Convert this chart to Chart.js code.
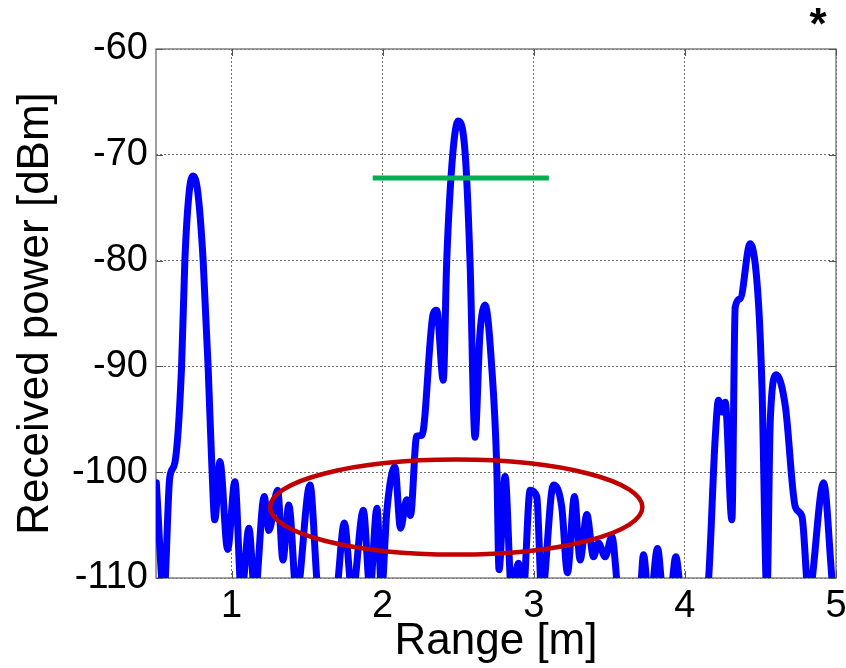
<!DOCTYPE html>
<html>
<head>
<meta charset="utf-8">
<script src="https://cdn.jsdelivr.net/npm/chart.js@4/dist/chart.umd.min.js"></script>
<style>
  html, body { margin: 0; padding: 0; background: #fff; }
  #wrap { width: 846px; height: 668px; }
</style>
</head>
<body>
<div id="wrap"><canvas id="myChart" width="846" height="668"></canvas></div>
<script>
// Range profile: received power vs. range
var rangeM = [
    0.502, 0.552, 0.591, 0.625, 0.669, 0.691, 0.719, 0.746, 0.777, 0.812,
    0.845, 0.868, 0.889, 0.923, 0.974, 1.022, 1.066, 1.115, 1.154, 1.216,
    1.247, 1.305, 1.340, 1.379, 1.430, 1.519, 1.574, 1.631, 1.693, 1.746,
    1.799, 1.872, 1.916, 1.962, 1.993, 2.028, 2.081, 2.118, 2.159, 2.184,
    2.225, 2.260, 2.335, 2.358, 2.401, 2.424, 2.464, 2.501, 2.546, 2.578,
    2.611, 2.644, 2.678, 2.722, 2.755, 2.770, 2.810, 2.854, 2.898, 2.929,
    2.976, 3.020, 3.053, 3.130, 3.185, 3.223, 3.269, 3.307, 3.351, 3.395,
    3.428, 3.472, 3.517, 3.560, 3.638, 3.704, 3.726, 3.766, 3.819, 3.853,
    3.880, 3.907, 3.940, 3.975, 4.068, 4.148, 4.201, 4.222, 4.245, 4.267,
    4.311, 4.333, 4.366, 4.432, 4.487, 4.510, 4.543, 4.565, 4.605, 4.665,
    4.731, 4.775, 4.819, 4.918, 4.985, 5.000
];
var powerDbm = [
    -101.0, -111.6, -100.5, -99.1, -90.1, -80.0, -73.6, -72.0, -73.6, -80.0,
    -90.1, -98.8, -104.5, -99.0, -107.3, -100.9, -111.6, -105.3, -111.6, -102.3,
    -105.5, -101.7, -108.3, -103.1, -111.6, -101.2, -111.6, -113.0, -111.6, -104.8,
    -111.6, -103.6, -111.1, -103.4, -111.1, -103.6, -99.5, -105.3, -102.6, -104.1,
    -96.6, -96.5, -85.0, -84.7, -91.3, -80.0, -69.9, -66.8, -69.9, -80.0,
    -96.7, -86.9, -84.2, -90.1, -99.5, -109.2, -100.4, -111.6, -108.6, -111.6,
    -101.7, -102.3, -111.6, -101.2, -103.3, -109.5, -102.3, -108.3, -104.0, -108.0,
    -106.7, -108.0, -106.1, -111.6, -114.0, -111.6, -107.8, -113.0, -107.2, -111.6,
    -113.0, -111.6, -108.0, -111.6, -114.0, -111.6, -96.7, -93.2, -94.3, -93.4,
    -104.5, -84.4, -83.6, -78.4, -84.0, -91.9, -111.6, -95.1, -90.8, -93.8,
    -103.3, -104.2, -111.6, -101.0, -111.6, -112.0
];

var xTicks = [1, 2, 3, 4, 5];
var yTicks = [-110, -100, -90, -80, -70, -60];

// detection threshold segment
var thresholdRange = [1.934, 3.10];
var thresholdDbm = -72.2;

// ellipse marking the sidelobe floor (centre and half-axes in data units)
var ellipseCenter = [2.487, -103.3];
var ellipseRadius = [1.232, 4.49];

var FONT = 'Arial, "Liberation Sans", sans-serif';

var profilePoints = rangeM.map(function (r, i) {
    return { x: r, y: powerDbm[i] };
});
var thresholdPoints = thresholdRange.map(function (r) {
    return { x: r, y: thresholdDbm };
});

// box around the axes, inward tick marks, ellipse and the star
var extras = {
    id: 'extras',
    beforeDatasetsDraw: function (chart) {
        var a = chart.chartArea, ctx = chart.ctx;
        var xs = chart.scales.x, ys = chart.scales.y;
        ctx.save();
        ctx.strokeStyle = '#808080';
        ctx.lineWidth = 1.5;
        ctx.strokeRect(a.left, a.top, a.right - a.left, a.bottom - a.top);
        ctx.strokeStyle = '#555';
        ctx.lineWidth = 1;
        ctx.beginPath();
        xTicks.forEach(function (v) {
            var px = Math.round(xs.getPixelForValue(v)) + 0.5;
            ctx.moveTo(px, a.bottom); ctx.lineTo(px, a.bottom - 7);
            ctx.moveTo(px, a.top); ctx.lineTo(px, a.top + 7);
        });
        yTicks.forEach(function (v) {
            var py = Math.round(ys.getPixelForValue(v)) + 0.5;
            ctx.moveTo(a.left, py); ctx.lineTo(a.left + 7, py);
            ctx.moveTo(a.right, py); ctx.lineTo(a.right - 7, py);
        });
        ctx.stroke();
        ctx.restore();
    },
    afterDatasetsDraw: function (chart) {
        var ctx = chart.ctx;
        var xs = chart.scales.x, ys = chart.scales.y;
        var cx = xs.getPixelForValue(ellipseCenter[0]);
        var cy = ys.getPixelForValue(ellipseCenter[1]);
        var rx = xs.getPixelForValue(ellipseCenter[0] + ellipseRadius[0]) - cx;
        var ry = cy - ys.getPixelForValue(ellipseCenter[1] + ellipseRadius[1]);
        ctx.save();
        ctx.strokeStyle = '#c00000';
        ctx.lineWidth = 4.5;
        ctx.beginPath();
        ctx.ellipse(cx, cy, rx, ry, 0, 0, Math.PI * 2);
        ctx.stroke();
        ctx.restore();
    },
    afterDraw: function (chart) {
        var ctx = chart.ctx;
        ctx.save();
        ctx.fillStyle = '#000';
        ctx.font = 'bold 44px ' + FONT;
        ctx.textAlign = 'center';
        ctx.textBaseline = 'alphabetic';
        ctx.fillText('*', 818, 39);
        ctx.restore();
    }
};

var ctx = document.getElementById('myChart').getContext('2d');
var myChart = new Chart(ctx, {
    type: 'line',
    data: {
        datasets: [{
            label: 'Threshold',
            data: thresholdPoints,
            borderColor: '#00b050',
            borderWidth: 5,
            borderCapStyle: 'butt',
            pointRadius: 0,
            order: 0
        }, {
            label: 'Received power',
            data: profilePoints,
            borderColor: '#0000ff',
            borderWidth: 7,
            borderJoinStyle: 'round',
            borderCapStyle: 'round',
            cubicInterpolationMode: 'monotone',
            pointRadius: 0,
            clip: 0,
            order: 2
        }]
    },
    options: {
        responsive: false,
        animation: false,
        events: [],
        layout: { padding: { left: 0, top: 49, right: 10, bottom: 0 } },
        plugins: {
            legend: { display: false },
            tooltip: { enabled: false }
        },
        scales: {
            x: {
                type: 'linear',
                min: 0.5,
                max: 5,
                afterBuildTicks: function (s) {
                    s.ticks = xTicks.map(function (v) { return { value: v }; });
                },
                afterFit: function (s) {
                    s.height = 90;
                    s.paddingLeft = 0;
                    s.paddingRight = 0;
                },
                grid: { color: '#6e6e6e', lineWidth: 1, drawTicks: false },
                border: { display: false, dash: [2, 2] },
                ticks: {
                    color: '#000',
                    padding: 6,
                    maxRotation: 0,
                    autoSkip: false,
                    font: { family: FONT, size: 38 }
                },
                title: {
                    display: true,
                    text: 'Range [m]',
                    color: '#000',
                    padding: 0,
                    font: { family: FONT, size: 44, lineHeight: 1.2 }
                }
            },
            y: {
                min: -110,
                max: -60,
                afterBuildTicks: function (s) {
                    s.ticks = yTicks.map(function (v) { return { value: v }; });
                },
                afterFit: function (s) {
                    s.width = 156;
                    s.paddingTop = 0;
                    s.paddingBottom = 0;
                },
                grid: { color: '#6e6e6e', lineWidth: 1, drawTicks: false },
                border: { display: false, dash: [2, 2] },
                ticks: {
                    color: '#000',
                    padding: 8,
                    font: { family: FONT, size: 38 }
                },
                title: {
                    display: true,
                    text: 'Received power [dBm]',
                    color: '#000',
                    padding: 9,
                    font: { family: FONT, size: 44, lineHeight: 1.2 }
                }
            }
        }
    },
    plugins: [extras]
});
</script>
</body>
</html>
